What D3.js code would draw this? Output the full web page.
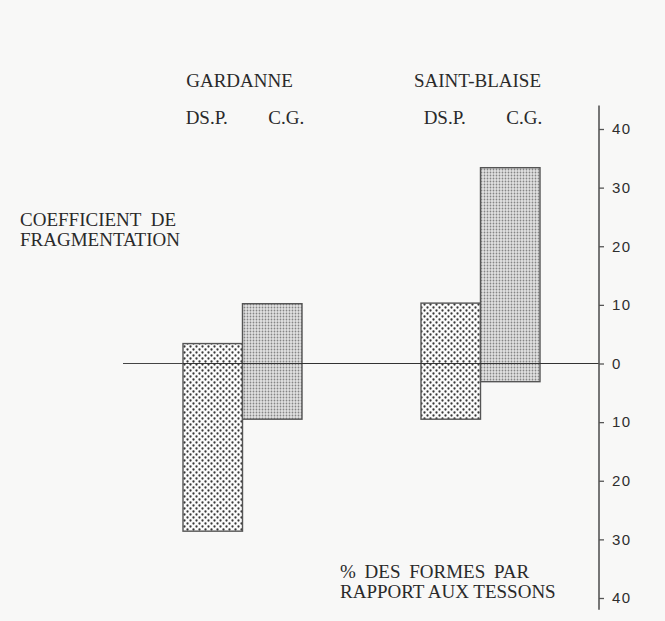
<!DOCTYPE html>
<html>
<head>
<meta charset="utf-8">
<script src="https://cdn.jsdelivr.net/npm/d3@7"></script>
<style>
  body { margin: 0; background: #f8f8f7; }
  svg { display: block; }
  .serif { font-family: "Liberation Serif", "Times New Roman", serif; fill: #2a2a2a; font-size: 19px; }
  .axis text { font-family: "Liberation Sans", Arial, sans-serif; font-size: 15px; letter-spacing: 1.5px; fill: #2e2e2e; }
</style>
</head>
<body>
<div id="chart"></div>
<script>
// data
const sites = ["GARDANNE", "SAINT-BLAISE"];
const methods = ["DS.P.", "C.G."];
// coefficient de fragmentation (above 0)
const coefValues = {
  "GARDANNE":     [3.4, 10.2],
  "SAINT-BLAISE": [10.3, 33.4]
};
// % des formes par rapport aux tessons (below 0)
const formesValues = {
  "GARDANNE":     [28.6, 9.5],
  "SAINT-BLAISE": [9.5, 3.1]
};
const tickValues = [-40, -30, -20, -10, 0, 10, 20, 30, 40];
const axisExtent = [-42, 44];

const width = 665, height = 621;

const svg = d3.select("#chart").append("svg")
    .attr("width", width)
    .attr("height", height);

// dot screens for the two methods
const defs = svg.append("defs");
const coarse = defs.append("pattern")
    .attr("id", "dotsCoarse")
    .attr("patternUnits", "userSpaceOnUse")
    .attr("width", 6).attr("height", 6);
coarse.append("rect").attr("width", 6).attr("height", 6).attr("fill", "#fbfbfb");
coarse.append("circle").attr("cx", 1.5).attr("cy", 1.5).attr("r", 1.15).attr("fill", "#383838");
coarse.append("circle").attr("cx", 4.5).attr("cy", 4.5).attr("r", 1.15).attr("fill", "#383838");

const fine = defs.append("pattern")
    .attr("id", "dotsFine")
    .attr("patternUnits", "userSpaceOnUse")
    .attr("width", 3).attr("height", 3);
fine.append("rect").attr("width", 3).attr("height", 3).attr("fill", "#e2e2e2");
fine.append("circle").attr("cx", 1.5).attr("cy", 1.5).attr("r", 0.9).attr("fill", "#858585");

const fills = { "DS.P.": "url(#dotsCoarse)", "C.G.": "url(#dotsFine)" };

const y = d3.scaleLinear().domain([-40, 40]).range([598, 129]);
const x0 = d3.scaleBand().domain(sites).range([183, 540]).paddingInner(0.5).paddingOuter(0);
const x1 = d3.scaleBand().domain(methods).range([0, x0.bandwidth()]);

// zero line
svg.append("line")
    .attr("x1", 123).attr("x2", 599)
    .attr("y1", y(0)).attr("y2", y(0))
    .attr("stroke", "#444").attr("stroke-width", 1.2);

// bars
const bars = [];
sites.forEach(s => methods.forEach((m, i) => {
  bars.push({ site: s, method: m, top: coefValues[s][i], bottom: -formesValues[s][i] });
}));

svg.append("g").selectAll("rect")
  .data(bars)
  .join("rect")
    .attr("x", d => x0(d.site) + x1(d.method))
    .attr("width", x1.bandwidth())
    .attr("y", d => y(d.top))
    .attr("height", d => y(d.bottom) - y(d.top))
    .attr("fill", d => fills[d.method])
    .attr("stroke", "#555")
    .attr("stroke-width", 1.4);

// redraw the zero line over the bars, as in the print
svg.append("line")
    .attr("x1", x0("GARDANNE")).attr("x2", 599)
    .attr("y1", y(0)).attr("y2", y(0))
    .attr("stroke", "#333").attr("stroke-width", 1.2);

// right axis
const axis = d3.axisRight(y)
    .tickValues(tickValues)
    .tickFormat(d => Math.abs(d))
    .tickSize(5)
    .tickSizeOuter(0)
    .tickPadding(8);

const axisG = svg.append("g")
    .attr("class", "axis")
    .attr("transform", "translate(599,0)")
    .call(axis);
axisG.select(".domain").remove();
axisG.selectAll(".tick line").attr("stroke", "#555").attr("stroke-width", 1.3);
axisG.append("line")
    .attr("y1", y(axisExtent[1])).attr("y2", y(axisExtent[0]))
    .attr("stroke", "#555").attr("stroke-width", 1.6);

// site and method headings
svg.append("g").selectAll("text")
  .data(sites)
  .join("text")
    .attr("class", "serif")
    .attr("x", d => x0(d) + x0.bandwidth() / 2 - 3)
    .attr("y", 87)
    .attr("text-anchor", "middle")
    .text(d => d);

const methodDx = { "DS.P.": -6, "C.G.": 14 };
sites.forEach(s => {
  svg.append("g").selectAll("text")
    .data(methods)
    .join("text")
      .attr("class", "serif")
      .attr("x", d => x0(s) + x1(d) + x1.bandwidth() / 2 + methodDx[d])
      .attr("y", 124)
      .attr("text-anchor", "middle")
      .text(d => d);
});

// axis titles
const leftTitle = svg.append("text").attr("class", "serif");
leftTitle.append("tspan").attr("x", 20).attr("y", 226).attr("word-spacing", "5px").text("COEFFICIENT DE");
leftTitle.append("tspan").attr("x", 20).attr("y", 246).text("FRAGMENTATION");

const bottomTitle = svg.append("text").attr("class", "serif");
bottomTitle.append("tspan").attr("x", 340).attr("y", 578).attr("word-spacing", "4px").text("% DES FORMES PAR");
bottomTitle.append("tspan").attr("x", 340).attr("y", 598).text("RAPPORT AUX TESSONS");
</script>
</body>
</html>
